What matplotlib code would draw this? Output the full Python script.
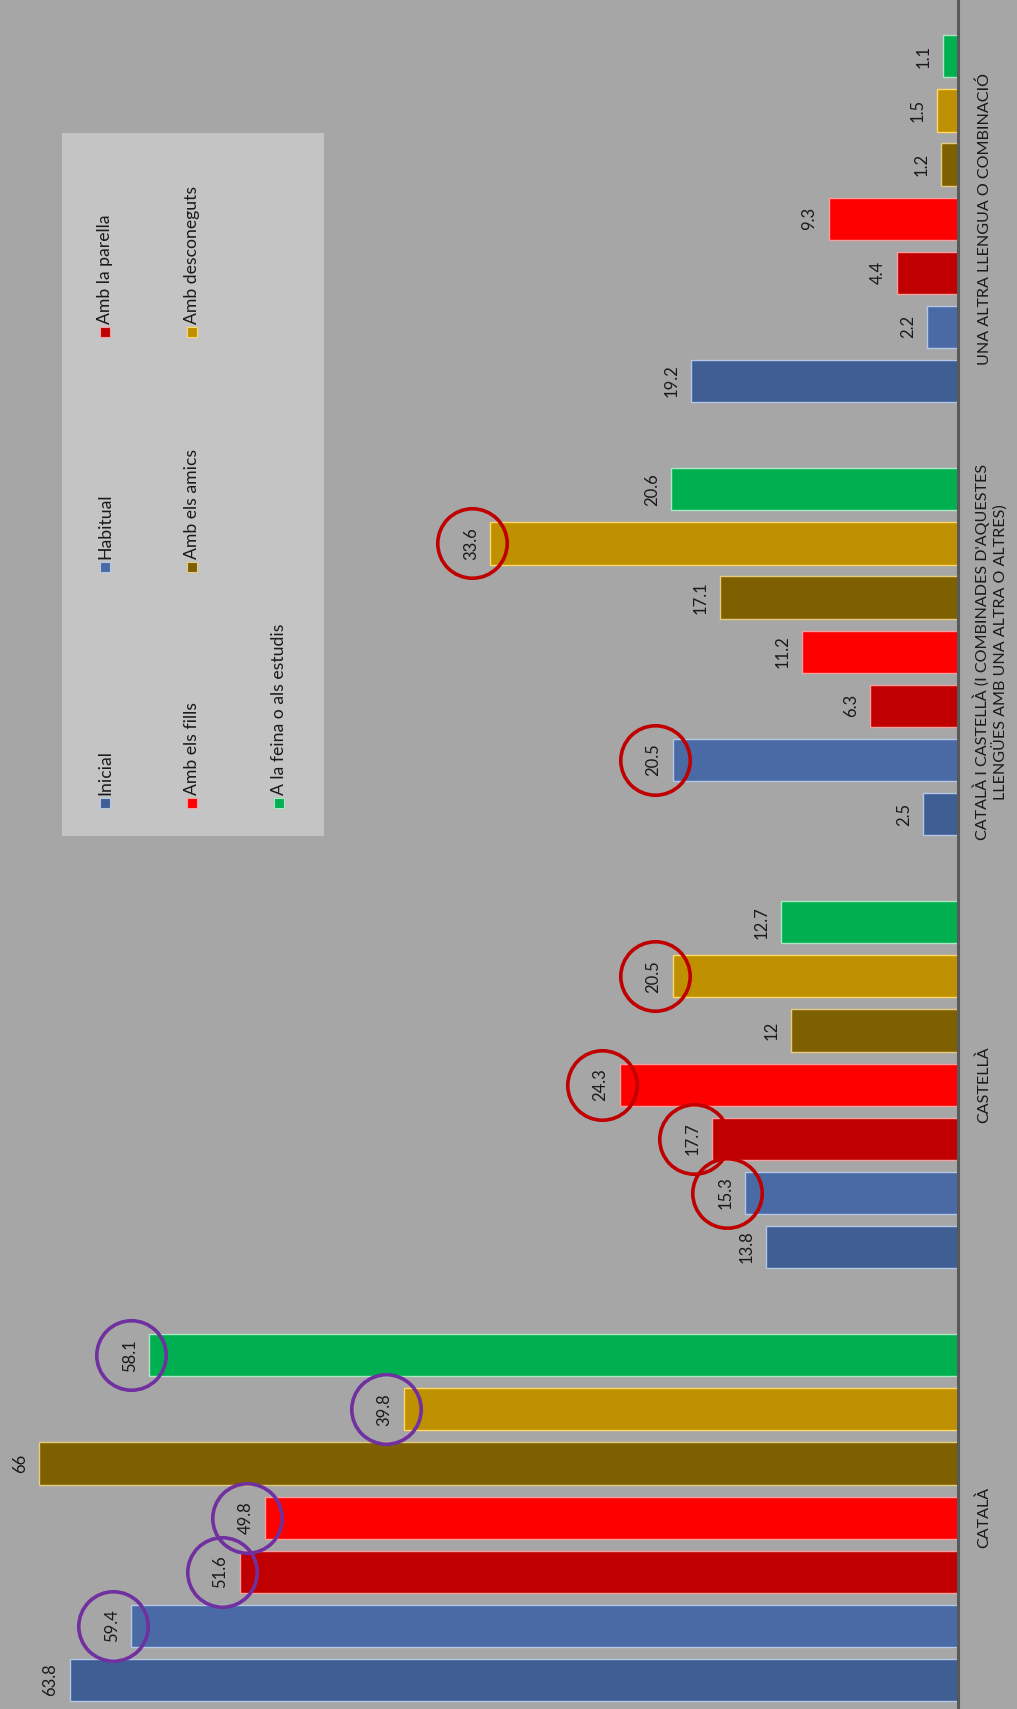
"""
Llengua inicial / habitual / per àmbits - gràfic de barres girat 90 graus
"""

import matplotlib
matplotlib.use("Agg")
import matplotlib.pyplot as plt
from matplotlib.patches import Rectangle
from matplotlib.transforms import ScaledTranslation

plt.rcParams["font.family"] = ["Lato", "DejaVu Sans"]

# ---- dades ----
categories = [
    "CATALÀ",
    "CASTELLÀ",
    "CATALÀ I CASTELLÀ (I COMBINADES D'AQUESTES\nLLENGÜES AMB UNA ALTRA O ALTRES)",
    "UNA ALTRA LLENGUA O COMBINACIÓ",
]
series = [
    "Inicial",
    "Habitual",
    "Amb la parella",
    "Amb els fills",
    "Amb els amics",
    "Amb desconeguts",
    "A la feina o als estudis",
]
inicial = [63.8, 13.8, 2.5, 19.2]
habitual = [59.4, 15.3, 20.5, 2.2]
parella = [51.6, 17.7, 6.3, 4.4]
fills = [49.8, 24.3, 11.2, 9.3]
amics = [66, 12, 17.1, 1.2]
desconeguts = [39.8, 20.5, 33.6, 1.5]
feina = [58.1, 12.7, 20.6, 1.1]
values = [inicial, habitual, parella, fills, amics, desconeguts, feina]

# etiquetes encerclades (categoria, sèrie)
purple_marks = [(0, 1), (0, 2), (0, 3), (0, 5), (0, 6)]
red_marks = [(1, 1), (1, 2), (1, 3), (1, 5), (2, 1), (2, 5)]

colors = ["#3F5E93", "#4A6AA5", "#C00000", "#FF0000", "#7F6000", "#BF9000", "#00B050"]
edges = ["#B4C7E7", "#B4C7E7", "#F4A0A0", "#F4A0A0", "#E6CC80", "#FFD966", "#A9E8C0"]

BG = "#A6A6A6"
W, H = 1017, 1709

fig = plt.figure(figsize=(W / 100, H / 100), dpi=100, facecolor=BG)
ax = fig.add_axes([0, 0, 958 / W, 1])
ax.set_facecolor(BG)

group_step = 8
for j, vals in enumerate(values):
    for i, v in enumerate(vals):
        y = i * group_step + j
        ax.barh(y, v, height=0.78, color=colors[j], edgecolor=edges[j], linewidth=1.0, zorder=2)
        ax.annotate(str(v), xy=(v, y), xytext=(-14, 0), textcoords="offset points",
                    rotation=90, ha="center", va="center", fontsize=12, color="#1a1a1a")

# cercles al voltant d'algunes etiquetes
shift = ScaledTranslation(-13 / 72, 0, fig.dpi_scale_trans)
for marks, col in [(purple_marks, "#7030A0"), (red_marks, "#C00000")]:
    for i, j in marks:
        v = values[j][i]
        y = i * group_step + j
        ax.plot([v], [y], "o", ms=50, mfc="none", mec=col, mew=2.6, zorder=4,
                transform=ax.transData + shift)

# category labels at the right of the axis
for i, cat in enumerate(categories):
    yc = i * group_step + 3
    dx = 19 if "\n" not in cat else 23
    ax.annotate(cat, xy=(0, yc), xytext=(dx, 0), textcoords="offset points",
                rotation=90, ha="center", va="center", fontsize=11.6,
                multialignment="center", linespacing=1.15, color="#1a1a1a",
                annotation_clip=False)

ax.set_xlim(958 / 13.92, 0)
ax.set_ylim(-0.536, 31.04)
ax.set_xticks([])
ax.set_yticks([])
for s in ["left", "top", "bottom"]:
    ax.spines[s].set_visible(False)
ax.spines["right"].set_color("#595959")
ax.spines["right"].set_linewidth(2.2)


# ---- llegenda girada ----
def fx(px):
    return px / W


def fy(py):
    return 1 - py / H


fig.add_artist(Rectangle((fx(62), fy(836)), fx(324) - fx(62), (836 - 133) / H,
                         transform=fig.transFigure, facecolor="#C4C4C4", edgecolor="none"))
leg_x = [105, 105, 105, 192, 192, 192, 279]
leg_y = [803, 567, 332, 803, 567, 332, 803]
for j, name in enumerate(series):
    x, y = leg_x[j], leg_y[j]
    fig.add_artist(Rectangle((fx(x - 5), fy(y + 5)), 10 / W, 10 / H, transform=fig.transFigure,
                             facecolor=colors[j], edgecolor=edges[j], linewidth=0.8))
    fig.text(fx(x), fy(y - 8), name, rotation=90, ha="center", va="bottom",
             fontsize=12.7, color="#1a1a1a")

fig.savefig("out.png", dpi=100, facecolor=BG)
